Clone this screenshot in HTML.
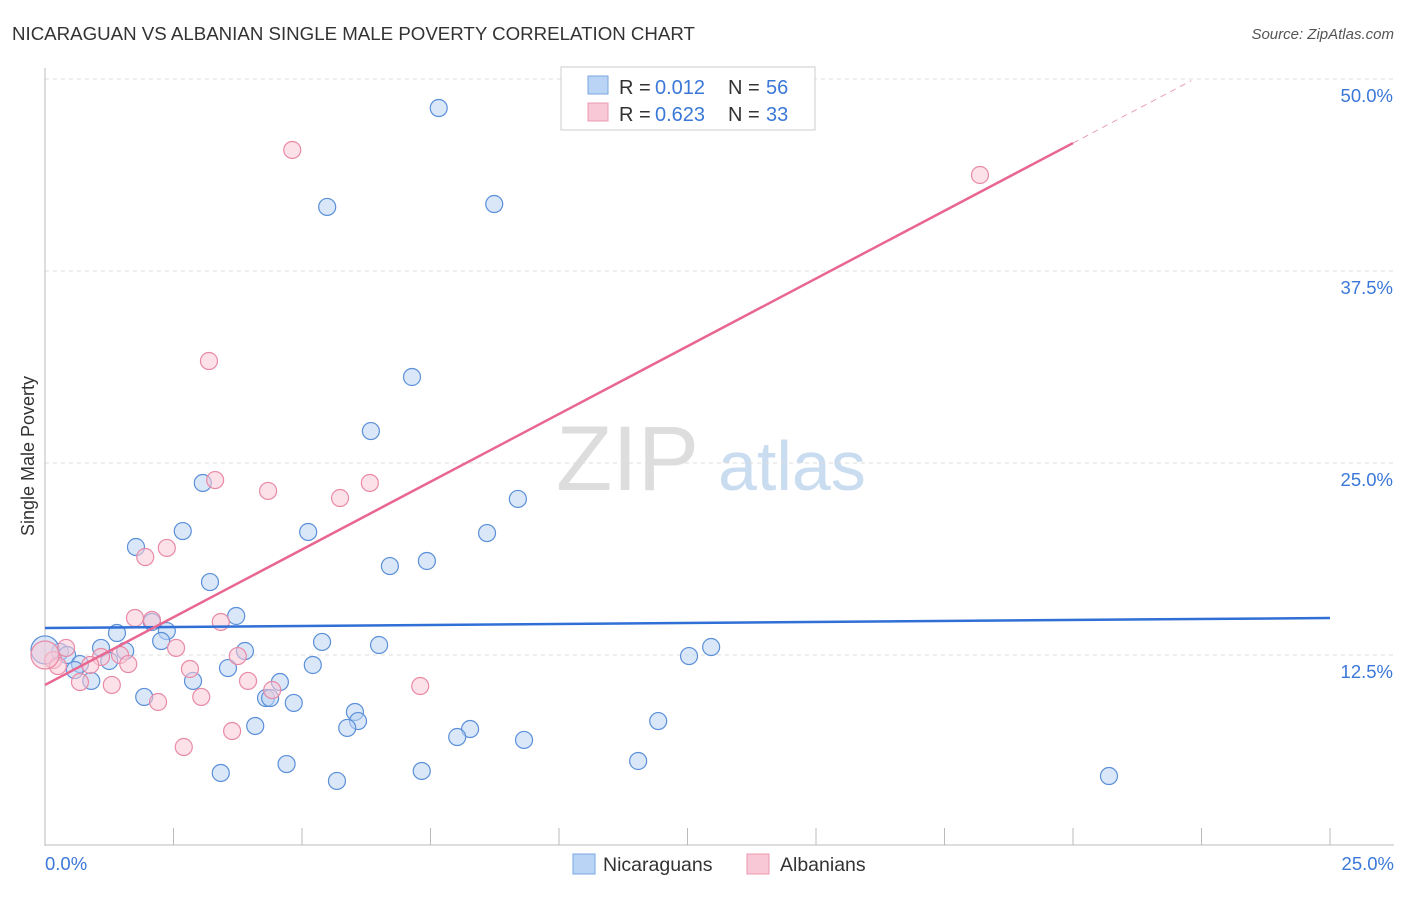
<!DOCTYPE html>
<html><head><meta charset="utf-8"><style>
body{margin:0;background:#fff;font-family:"Liberation Sans",sans-serif;}
svg text{font-family:"Liberation Sans",sans-serif;}
</style></head><body>
<svg id="c" width="1406" height="892">
<text x="12" y="40" font-size="18.7" fill="#333">NICARAGUAN VS ALBANIAN SINGLE MALE POVERTY CORRELATION CHART</text>
<text x="1394" y="39" font-size="15" fill="#555" font-style="italic" text-anchor="end">Source: ZipAtlas.com</text>
<text x="34" y="456" font-size="18" fill="#333" text-anchor="middle" transform="rotate(-90 34 456)">Single Male Poverty</text>
<text x="556" y="490" font-size="92" fill="#ddd" font-family="Liberation Serif">ZIP</text>
<text x="718" y="490" font-size="70" fill="#c9dcf0">atlas</text>
<g id="grid"></g><g id="pts"></g><g id="lines"></g>
<rect x="561" y="67" width="254" height="63" fill="#fff" stroke="#ccc"/>
<rect x="588" y="76" width="20" height="18" fill="#b9d4f4" stroke="#7aa7e0"/>
<rect x="588" y="103" width="20" height="18" fill="#f9c8d6" stroke="#ec98b0"/>
<g font-size="20" fill="#333">
<text x="619" y="94">R =</text><text x="655" y="94" fill="#3b78d8">0.012</text><text x="728" y="94">N =</text><text x="766" y="94" fill="#3b78d8">56</text></g>
<g font-size="20" fill="#333">
<text x="619" y="121">R =</text><text x="655" y="121" fill="#3b78d8">0.623</text><text x="728" y="121">N =</text><text x="766" y="121" fill="#3b78d8">33</text></g>
<rect x="573" y="854" width="22" height="20" fill="#b9d4f4" stroke="#7aa7e0"/>
<text x="603" y="871" font-size="19.5" fill="#333">Nicaraguans</text>
<rect x="747" y="854" width="22" height="20" fill="#f9c8d6" stroke="#ec98b0"/>
<text x="780" y="871" font-size="19.5" fill="#333">Albanians</text>
</svg>
<script>
const yTicks=[12.5,25,37.5,50];
const yTickLabels=["12.5%","25.0%","37.5%","50.0%"];
const xTickLabels=["0.0%","25.0%"];
const nicX=[7.66,5.49,8.74,7.14,6.34,3.07,9.2,2.68,5.12,1.77,8.6,6.71,7.43,3.21,3.72,2.08,2.37,1.4,2.26,5.39,6.5,1.09,1.56,3.89,0.29,0.43,0,1.25,0.68,0.58,3.56,5.21,2.88,0.9,4.57,4.3,1.93,4.38,4.84,6.03,6.09,4.09,5.88,8.27,8.02,9.32,11.93,12.53,12.96,3.42,4.7,5.68,7.33,11.54,20.7];
const nicY=[48.11,41.67,41.86,30.6,27.08,23.7,22.66,20.57,20.51,19.53,20.44,18.29,18.62,17.25,15.04,14.65,14.06,13.93,13.41,13.35,13.15,12.96,12.76,12.76,12.7,12.5,12.83,12.11,11.91,11.52,11.65,11.85,10.81,10.81,10.74,9.7,9.77,9.7,9.38,8.79,8.2,7.88,7.75,7.68,7.16,6.97,8.2,12.43,13.02,4.82,5.4,4.3,4.95,5.6,4.62];
const albX=[4.81,18.19,3.19,3.31,4.34,5.74,6.32,2.37,1.95,1.75,2.08,3.42,2.55,0.41,3.75,1.09,1.46,0.16,0.25,0.88,1.62,2.82,3.95,0.68,1.3,4.42,3.04,2.2,7.3,3.64,2.7,0];
const albY=[45.38,43.75,31.64,23.89,23.18,22.72,23.7,19.47,18.88,14.91,14.78,14.65,12.96,12.96,12.43,12.37,12.5,12.17,11.78,11.85,11.91,11.59,10.81,10.74,10.55,10.22,9.77,9.44,10.48,7.55,6.51,12.5];
const nicTrend=[14.26,14.91];
const albTrend=[10.55,45.83,20];
const NS="http://www.w3.org/2000/svg";
const X=v=>45+v/25*1285, Y=v=>847-v/12.5*192;
function mk(t,a,p){const e=document.createElementNS(NS,t);for(const k in a)e.setAttribute(k,a[k]);p.appendChild(e);return e;}
const grid=document.getElementById('grid');
yTicks.forEach((t,i)=>{
 const g=mk('line',{x1:45,x2:1394,y1:Y(t),y2:Y(t),stroke:'#ddd','stroke-dasharray':'4,4'},grid);
 
 
 const l=mk('text',{x:1393,y:Y(t)+23,'font-size':18.5,fill:'#3b78d8','text-anchor':'end'},grid);l.textContent=yTickLabels[i];
 
 
});
const ax=mk('line',{x1:45,x2:45,y1:68,y2:846,stroke:'#bbb'},grid);


const bx=mk('line',{x1:45,x2:1394,y1:845,y2:845,stroke:'#bbb'},grid);


for(let i=0;i<=10;i++){const t=mk('line',{x1:X(i*2.5),x2:X(i*2.5),y1:828,y2:845,stroke:'#bbb'},grid);
 
 }
[[0,'start',45],[25,'end',1394]].forEach((d,i)=>{const l=mk('text',{x:d[2],y:870,'font-size':18.5,fill:'#3b78d8','text-anchor':d[1]},grid);l.textContent=xTickLabels[i];
 
 });
const pts=document.getElementById('pts');
function dots(xs,ys,fill,stroke,name){xs.forEach((x,i)=>{const big=x===0;
 const c=mk('circle',{cx:X(x),cy:Y(ys[i]),r:big?14:8.5,fill:fill,'fill-opacity':0.55,stroke:stroke,'stroke-width':1.2},pts);
 
 });}
dots(nicX,nicY,'#b9d4f4','#5b8fd8','nicaraguan-point');
dots(albX,albY,'#f9c8d6','#e88aa6','albanian-point');
const ln=document.getElementById('lines');
const b=mk('line',{x1:X(0),y1:Y(nicTrend[0]),x2:X(25),y2:Y(nicTrend[1]),stroke:'#2f6fd6','stroke-width':2.5},ln);


const p=mk('line',{x1:X(0),y1:Y(albTrend[0]),x2:X(albTrend[2]),y2:Y(albTrend[1]),stroke:'#e8668f','stroke-width':2.5},ln);


const slope=(albTrend[1]-albTrend[0])/albTrend[2];
const pd=mk('line',{x1:X(albTrend[2]),y1:Y(albTrend[1]),x2:X(22.3),y2:Y(albTrend[0]+slope*22.3),stroke:'#e8a0b6','stroke-width':1,'stroke-dasharray':'6,5'},ln);


</script>
</body></html>
